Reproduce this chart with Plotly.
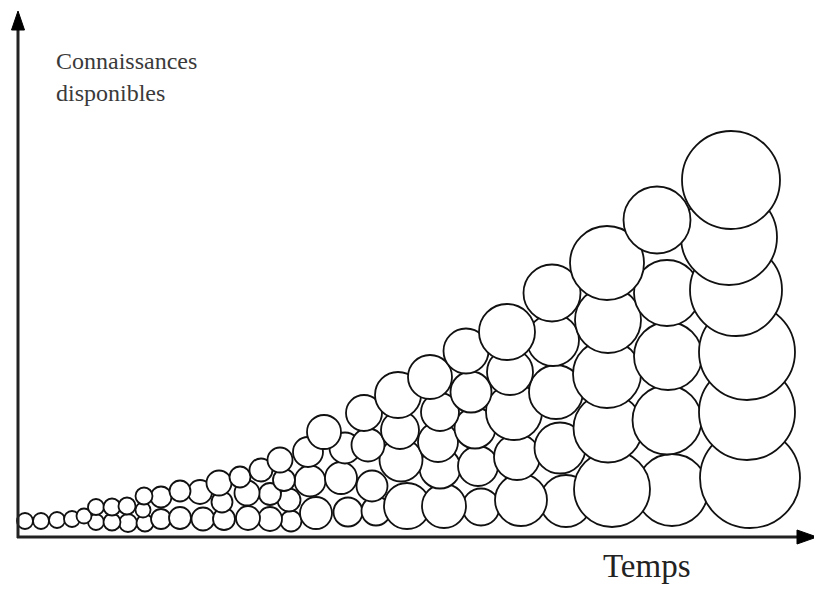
import plotly.graph_objects as go

# Circles (centre x, centre y, radius), in pixel units
cx = [25, 41, 57, 72, 84,
      96, 96, 112, 112, 128, 127,
      145, 143, 144, 161, 161, 180, 180, 203, 200,
      224, 222, 219, 248, 247, 240, 270, 270, 261,
      291, 289, 284, 280,
      316, 310, 308, 324,
      348, 341, 345,
      376, 372, 368, 364,
      407, 401, 400, 398,
      444, 440, 438, 440, 430,
      481, 478, 475, 471, 466,
      521, 517, 514, 510, 507,
      566, 560, 556, 553, 552,
      612, 608, 607, 608, 607,
      672, 667, 668, 667, 657,
      750, 747, 747, 736, 729, 731]
cy = [521, 521, 520, 519, 516,
      522, 507, 522, 507, 523, 506,
      523, 510, 496, 519, 497, 518, 491, 519, 492,
      519, 502, 483, 518, 493, 477, 519, 494, 470,
      521, 500, 480, 460,
      513, 481, 452, 432,
      512, 478, 448,
      511, 486, 445, 413,
      506, 460, 430, 395,
      506, 468, 442, 412, 377,
      507, 466, 428, 392, 351,
      500, 457, 412, 372, 332,
      501, 448, 392, 340, 293,
      489, 428, 374, 320, 263,
      490, 420, 356, 293, 220,
      478, 412, 352, 290, 237, 180]
r = [8, 8, 8, 8, 7.5,
     8, 8, 8.5, 8.5, 9, 8.5,
     8.5, 7.5, 8.5, 10, 10.5, 11, 10.5, 11.5, 12,
     11, 10.5, 12.5, 12, 12.5, 10.5, 12, 11, 11.5,
     10.5, 11.5, 11, 12.5,
     16, 15.5, 15, 17,
     14.5, 16, 15.5,
     14.5, 15.5, 16.5, 18,
     23, 21.5, 19, 23,
     22, 20.5, 20, 19, 22,
     18.5, 20, 20.5, 20.5, 22.5,
     26, 23, 28, 23, 28,
     26, 25.5, 27, 26, 28.5,
     38, 34.5, 34, 33, 37,
     36, 34.5, 34, 33, 33.5,
     50, 48, 48, 46, 48, 49]

y_label = ["Connaissances", "disponibles"]
x_label = "Temps"

# page body has an 8px margin: shift the data ranges so data units = window pixels
OFF = 8

fig = go.Figure()
fig.add_trace(go.Scatter(x=[0], y=[0], mode="markers", marker=dict(opacity=0), hoverinfo="skip", showlegend=False))

shapes = []
order = sorted(range(len(cx)), key=lambda i: -cy[i])
for i in order:
    shapes.append(dict(type="circle", xref="x", yref="y",
                       x0=cx[i] - r[i], x1=cx[i] + r[i], y0=cy[i] - r[i], y1=cy[i] + r[i],
                       fillcolor="white", line=dict(color="#111111", width=1.8), layer="above"))

# axes with arrows
axis_col = "#222222"
shapes += [
    dict(type="line", xref="x", yref="y", x0=18, x1=18, y0=538, y1=24, line=dict(color=axis_col, width=3)),
    dict(type="line", xref="x", yref="y", x0=17, x1=802, y0=537, y1=537, line=dict(color=axis_col, width=3)),
    dict(type="path", xref="x", yref="y", path="M 11.5 30 L 18 11 L 24.5 30 Z", fillcolor="black", line=dict(color="black", width=1)),
    dict(type="path", xref="x", yref="y", path="M 797 530 L 817 537 L 797 544 Z", fillcolor="black", line=dict(color="black", width=1)),
]

annotations = [
    dict(x=54, y=61, text=y_label[0], xref="x", yref="y", xanchor="left", yanchor="middle", showarrow=False,
         font=dict(family="Liberation Serif", size=24, color="#3a3a3a")),
    dict(x=54, y=93, text=y_label[1], xref="x", yref="y", xanchor="left", yanchor="middle", showarrow=False,
         font=dict(family="Liberation Serif", size=24, color="#3a3a3a")),
    dict(x=601, y=566, text=x_label, xref="x", yref="y", xanchor="left", yanchor="middle", showarrow=False,
         font=dict(family="Liberation Serif", size=33, color="#222222")),
]

fig.update_layout(
    width=822, height=597,
    margin=dict(l=0, r=0, t=0, b=0),
    paper_bgcolor="white", plot_bgcolor="white",
    xaxis=dict(range=[OFF, 822 + OFF], visible=False, fixedrange=True),
    yaxis=dict(range=[597 + OFF, OFF], visible=False, fixedrange=True),
    shapes=shapes, annotations=annotations, showlegend=False,
)
fig.write_html("out.html")
